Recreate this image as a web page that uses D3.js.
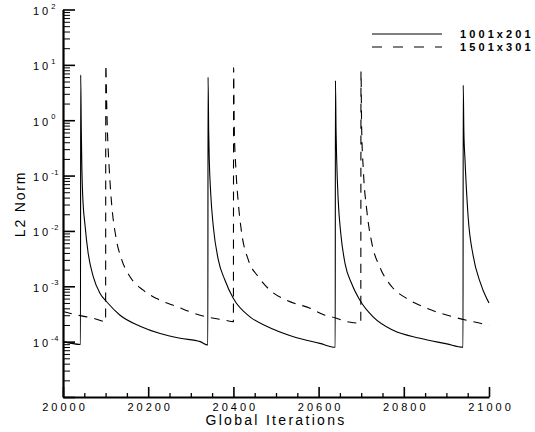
<!DOCTYPE html>
<html>
<head>
<meta charset="utf-8">
<script src="https://cdn.jsdelivr.net/npm/d3@7/dist/d3.min.js"></script>
<style>
  html, body { margin: 0; padding: 0; background: #fff; }
  svg { display: block; font-family: "Liberation Sans", Arial, sans-serif; }
</style>
</head>
<body>
<svg id="chart" width="535" height="432"></svg>
<script>
// ---- data ----
const seriesNames = ["1001x201", "1501x301"];

// 1001x201 (solid): [iteration, L2 norm]
const iter1001 = [20000, 20041, 20041.5, 20043, 20044, 20046, 20052, 20059, 20071, 20087, 20103, 20134, 20181, 20228, 20275, 20322, 20340,
  20340.5, 20342, 20343.4, 20346.7, 20352.8, 20364.6, 20380, 20400, 20439, 20478, 20541, 20603, 20639,
  20639.5, 20641, 20642.5, 20646, 20652, 20662, 20678, 20697, 20728, 20775, 20838, 20901, 20939,
  20939.5, 20941, 20943.7, 20951, 20963, 20979, 20994.6, 21000];
const norm1001 = [1.0e-4, 8.9e-5, 6.6, 0.63, 0.19, 0.048, 0.012, 4.0e-3, 1.5e-3, 7.4e-4, 5.2e-4, 3.0e-4, 1.9e-4, 1.4e-4, 1.15e-4, 1.0e-4, 8.7e-5,
  6.0, 0.63, 0.19, 0.048, 0.012, 3.0e-3, 1.3e-3, 6.0e-4, 2.8e-4, 1.9e-4, 1.23e-4, 9.3e-5, 7.9e-5,
  5.2, 0.63, 0.19, 0.036, 9.1e-3, 2.6e-3, 1.1e-3, 5.6e-4, 2.8e-4, 1.6e-4, 1.15e-4, 9.1e-5, 7.9e-5,
  4.3, 0.63, 0.19, 0.018, 3.5e-3, 1.2e-3, 6.0e-4, 5.0e-4];

// 1501x301 (dashed): [iteration, L2 norm]
const iter1501 = [20000, 20040, 20075, 20100,
  20100.5, 20102.6, 20104, 20108.7, 20114, 20124, 20138, 20157, 20188.5, 20220, 20267, 20322, 20380, 20400,
  20400.5, 20402, 20406, 20411.5, 20419.5, 20435, 20458, 20486, 20525, 20580, 20615, 20638.5, 20666, 20699,
  20699.5, 20701, 20705, 20713, 20725, 20744, 20772, 20807, 20854, 20916, 20994.6, 21000];
const norm1501 = [3.5e-4, 2.95e-4, 2.6e-4, 2.3e-4,
  10, 2.0, 0.76, 0.126, 0.032, 7.9e-3, 3.0e-3, 1.5e-3, 8.5e-4, 6.0e-4, 4.3e-4, 3.0e-4, 2.45e-4, 2.3e-4,
  8.9, 0.76, 0.126, 0.032, 9.1e-3, 3.0e-3, 1.5e-3, 8.5e-4, 5.6e-4, 4.0e-4, 3.0e-4, 2.7e-4, 2.3e-4, 2.15e-4,
  7.6, 0.76, 0.126, 0.024, 6.0e-3, 2.2e-3, 9.8e-4, 6.0e-4, 4.0e-4, 2.8e-4, 2.0e-4, 1.95e-4];

const xTicks = [20000, 20200, 20400, 20600, 20800, 21000];
const xTickLabels = ["20000", "20200", "20400", "20600", "20800", "21000"];
const yTickExponents = [2, 1, 0, -1, -2, -3, -4];
const xTitle = "Global Iterations";
const yTitle = "L2 Norm";

// ---- layout ----
const svg = d3.select("#chart");
const x = d3.scaleLinear().domain([20000, 21000]).range([63, 489]);
const y = d3.scaleLog().domain([1e-5, 1e2]).range([397, 9.5]);

// minor ticks
const xMinor = d3.range(20000, 21001, 50).filter(v => v % 200 !== 0);
const yMinor = [];
for (let e = -5; e < 2; e++) for (let m = 2; m <= 9; m++) yMinor.push(m * Math.pow(10, e));

// X axis
const gx = svg.append("g").attr("transform", "translate(0,397)");
gx.call(d3.axisBottom(x).tickValues(xMinor).tickSize(-4).tickFormat(""))
  .call(g => g.select(".domain").remove());
gx.selectAll(".tick line").attr("stroke", "#000").attr("stroke-width", 1.3);
const gx2 = svg.append("g").attr("transform", "translate(0,397)");
gx2.call(d3.axisBottom(x).tickValues(xTicks).tickSize(-10).tickSizeOuter(0).tickPadding(6)
    .tickFormat((d, i) => xTickLabels[i]))
  .call(g => g.select(".domain").attr("stroke", "#000").attr("stroke-width", 2.2));
gx2.selectAll(".tick line").attr("stroke", "#000").attr("stroke-width", 1.6);
gx2.selectAll(".tick text").attr("font-size", 11).attr("fill", "#000")
  .attr("font-family", "Liberation Sans, Arial, sans-serif")
  .style("letter-spacing", "3px").attr("dx", "1.5px");

// Y axis
const gy = svg.append("g").attr("transform", "translate(63,0)");
gy.call(d3.axisLeft(y).tickValues(yMinor).tickSize(-7).tickFormat(""))
  .call(g => g.select(".domain").remove());
gy.selectAll(".tick line").attr("stroke", "#000").attr("stroke-width", 1);
const gy2 = svg.append("g").attr("transform", "translate(63,0)");
gy2.call(d3.axisLeft(y).tickValues([1e-5].concat(yTickExponents.map(e => Math.pow(10, e))))
    .tickSize(-12).tickSizeOuter(0).tickFormat(""))
  .call(g => g.select(".domain").attr("stroke", "#000").attr("stroke-width", 2.2));
gy2.selectAll(".tick line").attr("stroke", "#000").attr("stroke-width", 1.6);

// Y labels: 10^e
const yl = svg.append("g").attr("font-size", 11).attr("fill", "#000");
yTickExponents.forEach(e => {
  const t = yl.append("text")
    .attr("x", 33).attr("y", y(Math.pow(10, e)) + 5.5)
    .style("letter-spacing", "3px");
  t.append("tspan").text("10");
  t.append("tspan").attr("font-size", 7.5).attr("dy", -6.5).style("letter-spacing", "0.5px").text(String(e));
});

// titles
svg.append("text").attr("x", 276).attr("y", 425).attr("text-anchor", "middle")
  .attr("font-size", 14).style("letter-spacing", "2.3px").text(xTitle);
svg.append("text").attr("transform", "translate(25,204) rotate(-90)").attr("text-anchor", "middle")
  .attr("font-size", 14).style("letter-spacing", "1.8px").text(yTitle);

// lines
const line = d3.line().x(d => x(d[0])).y(d => y(d[1])).curve(d3.curveMonotoneX);
const d1001 = iter1001.map((v, i) => [v, norm1001[i]]);
const d1501 = iter1501.map((v, i) => [v, norm1501[i]]);
svg.append("path").datum(d1001).attr("d", line)
  .attr("fill", "none").attr("stroke", "#000").attr("stroke-width", 1.1);
svg.append("path").datum(d1501).attr("d", line)
  .attr("fill", "none").attr("stroke", "#000").attr("stroke-width", 1.1)
  .attr("stroke-dasharray", "9,7");

// legend
const legend = svg.append("g");
const styles = [null, "10,11"];
seriesNames.forEach((name, i) => {
  const ly = 34 + i * 13;
  legend.append("line").attr("x1", 372).attr("x2", 442).attr("y1", ly).attr("y2", ly)
    .attr("stroke", "#000").attr("stroke-width", 1.1)
    .attr("stroke-dasharray", styles[i]);
  legend.append("text").attr("x", 460).attr("y", ly + 4)
    .attr("font-size", 11).attr("font-weight", "bold").style("letter-spacing", "3.1px")
    .text(name);
});
</script>
</body>
</html>
